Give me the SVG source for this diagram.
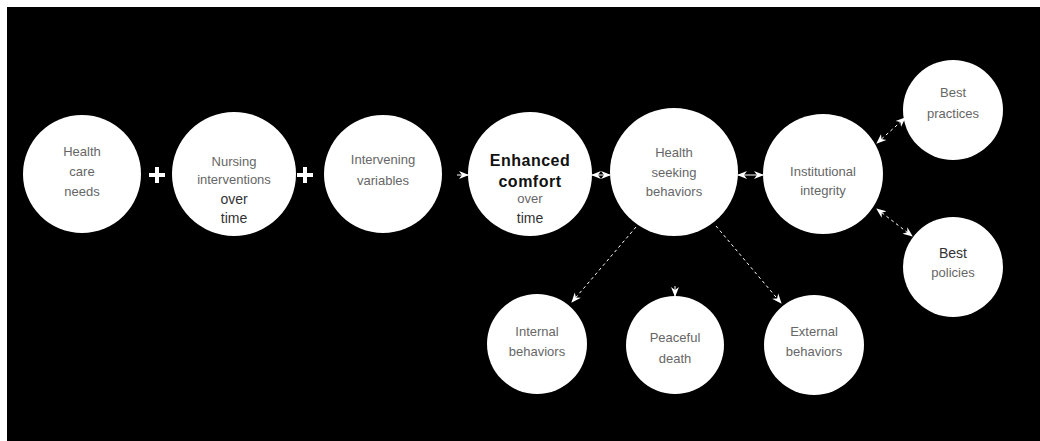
<svg xmlns="http://www.w3.org/2000/svg" width="1040" height="441" viewBox="0 0 1040 441">
<defs>
<style>
.n{fill:#fff;stroke:none}
.t{font-family:"Liberation Sans",Arial,sans-serif;font-size:13px;fill:#666;text-anchor:middle}
.d{font-size:14px;fill:#333}
.b{font-size:16px;font-weight:bold;fill:#111;letter-spacing:0.5px}
.c{stroke:#fff;stroke-width:1;fill:none}
.dash{stroke-dasharray:3 3}
.plus{stroke:#fff;stroke-width:4}
</style>
<marker id="ah" viewBox="0 0 10 10" refX="9" refY="5" markerWidth="10" markerHeight="10" orient="auto-start-reverse" markerUnits="userSpaceOnUse">
<path d="M0,1 L10,5 L0,9 L3,5 Z" fill="#fff"/>
</marker>
</defs>
<rect x="0" y="0" width="1040" height="441" fill="#fff"/>
<rect x="7" y="7" width="1033" height="434" fill="#000"/>

<g id="connectors">
<line class="plus" x1="149" y1="175" x2="165" y2="175"/><line class="plus" x1="157" y1="167" x2="157" y2="183"/>
<line class="plus" x1="297" y1="175" x2="313" y2="175"/><line class="plus" x1="305" y1="167" x2="305" y2="183"/>
<line class="c" x1="457" y1="175" x2="468" y2="175" marker-end="url(#ah)"/>
<line class="c" x1="592" y1="175" x2="610" y2="175" marker-start="url(#ah)" marker-end="url(#ah)"/>
<line class="c" x1="738" y1="175" x2="763" y2="175" marker-start="url(#ah)" marker-end="url(#ah)"/>
<line class="c dash" x1="877" y1="143" x2="905" y2="118" marker-start="url(#ah)" marker-end="url(#ah)"/>
<line class="c dash" x1="877" y1="209" x2="912" y2="236" marker-start="url(#ah)" marker-end="url(#ah)"/>
<line class="c dash" x1="636" y1="227" x2="572" y2="302" marker-end="url(#ah)"/>
<line class="c dash" x1="716" y1="226" x2="781" y2="303" marker-end="url(#ah)"/>
<line class="c" x1="675" y1="286" x2="675" y2="296" marker-end="url(#ah)"/>
</g>

<g id="health-care-needs"><circle class="n" cx="82" cy="174" r="59"/>
<text class="t" x="82" y="156">Health</text><text class="t" x="82" y="176">care</text><text class="t" x="82" y="196">needs</text></g>

<g id="nursing-interventions"><circle class="n" cx="234" cy="174" r="62"/>
<text class="t" x="234" y="166">Nursing</text><text class="t" x="234" y="184">interventions</text><text class="t d" x="234" y="204">over</text><text class="t d" x="234" y="223">time</text></g>

<g id="intervening-variables"><circle class="n" cx="383" cy="174" r="59"/>
<text class="t" x="383" y="164">Intervening</text><text class="t" x="383" y="185">variables</text></g>

<g id="enhanced-comfort"><circle class="n" cx="530" cy="174" r="62"/>
<text class="t b" x="530" y="166">Enhanced</text><text class="t b" x="530" y="187">comfort</text><text class="t" x="530" y="203">over</text><text class="t d" x="530" y="223">time</text></g>

<g id="health-seeking-behaviors"><circle class="n" cx="674" cy="172" r="64"/>
<text class="t" x="674" y="157">Health</text><text class="t" x="674" y="177">seeking</text><text class="t" x="674" y="196">behaviors</text></g>

<g id="institutional-integrity"><circle class="n" cx="823" cy="174" r="60"/>
<text class="t" x="823" y="176">Institutional</text><text class="t" x="823" y="195">integrity</text></g>

<g id="best-practices"><circle class="n" cx="953" cy="110" r="50"/>
<text class="t" x="953" y="97">Best</text><text class="t" x="953" y="118">practices</text></g>

<g id="best-policies"><circle class="n" cx="953" cy="267" r="50"/>
<text class="t d" x="953" y="258">Best</text><text class="t" x="953" y="277">policies</text></g>

<g id="internal-behaviors"><circle class="n" cx="537" cy="344" r="50"/>
<text class="t" x="537" y="336">Internal</text><text class="t" x="537" y="356">behaviors</text></g>

<g id="peaceful-death"><circle class="n" cx="675" cy="345" r="49"/>
<text class="t" x="675" y="342">Peaceful</text><text class="t" x="675" y="363">death</text></g>

<g id="external-behaviors"><circle class="n" cx="814" cy="345" r="50"/>
<text class="t" x="814" y="336">External</text><text class="t" x="814" y="356">behaviors</text></g>
</svg>
